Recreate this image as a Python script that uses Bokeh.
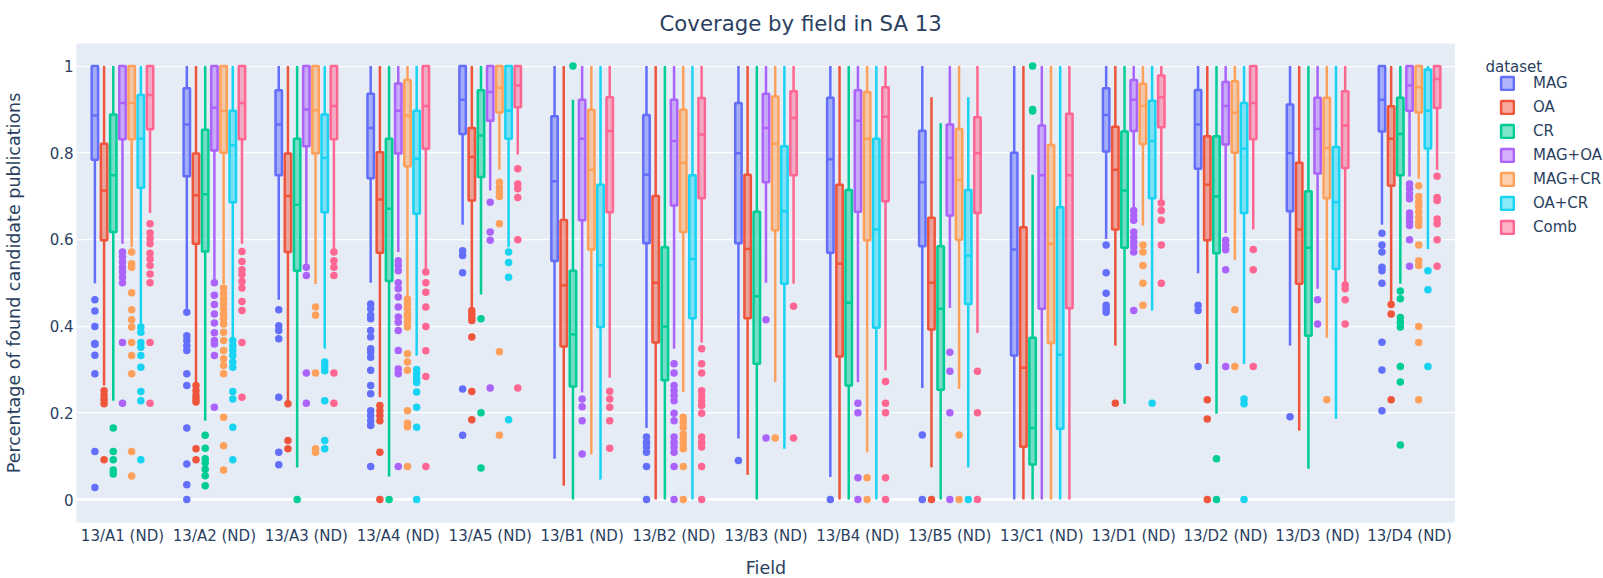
from bokeh.plotting import figure
from bokeh.models import FactorRange, Range1d, FixedTicker, ColumnDataSource, Legend, LegendItem, Span, Label
from bokeh.transform import dodge
from bokeh.layouts import row
from bokeh.embed import file_html
from bokeh.resources import INLINE

FIELDS = ["13/A1 (ND)", "13/A2 (ND)", "13/A3 (ND)", "13/A4 (ND)", "13/A5 (ND)",
          "13/B1 (ND)", "13/B2 (ND)", "13/B3 (ND)", "13/B4 (ND)", "13/B5 (ND)",
          "13/C1 (ND)", "13/D1 (ND)", "13/D2 (ND)", "13/D3 (ND)", "13/D4 (ND)"]
DATASETS = ["MAG", "OA", "CR", "MAG+OA", "MAG+CR", "OA+CR", "Comb"]
COLORS = ["#636efa", "#EF553B", "#00cc96", "#ab63fa", "#FFA15A", "#19d3f3", "#FF6692"]

# ---- MAG ----
MAG_LO = [0.499, 0.44, 0.461, 0.5, 0.634, 0.094, 0.165, 0.141, 0.052, 0.257, 0.0, 0.601, 0.522, 0.355, 0.634]
MAG_Q1 = [0.784, 0.746, 0.748, 0.741, 0.843, 0.55, 0.591, 0.591, 0.569, 0.584, 0.332, 0.803, 0.763, 0.665, 0.849]
MAG_MED = [0.886, 0.865, 0.865, 0.857, 0.922, 0.734, 0.749, 0.799, 0.785, 0.732, 0.577, 0.887, 0.865, 0.799, 0.922]
MAG_Q3 = [1.0, 0.949, 0.944, 0.936, 1.0, 0.884, 0.887, 0.915, 0.927, 0.851, 0.8, 0.949, 0.945, 0.911, 1.0]
MAG_HI = [1.0] * 15
MAG_OUT = [[0.461, 0.435, 0.399, 0.36, 0.358, 0.333, 0.29, 0.111, 0.028],
           [0.432, 0.378, 0.367, 0.355, 0.344, 0.29, 0.263, 0.165, 0.082, 0.034, 0.0],
           [0.438, 0.401, 0.39, 0.371, 0.236, 0.109, 0.08],
           [0.451, 0.44, 0.425, 0.417, 0.39, 0.375, 0.348, 0.34, 0.328, 0.298, 0.263, 0.244, 0.205, 0.194, 0.182, 0.171, 0.076],
           [0.574, 0.563, 0.523, 0.255, 0.148],
           [],
           [0.144, 0.132, 0.121, 0.109, 0.076, 0.0],
           [0.09],
           [0.0],
           [0.149, 0.0],
           [],
           [0.587, 0.523, 0.476, 0.448, 0.44, 0.432],
           [0.448, 0.436, 0.307],
           [0.191],
           [0.614, 0.587, 0.571, 0.536, 0.528, 0.499, 0.363, 0.299, 0.205]]

# ---- OA ----
OA_LO = [0.263, 0.267, 0.225, 0.236, 0.444, 0.032, 0.0, 0.057, 0.0, 0.074, 0.0, 0.355, 0.313, 0.159, 0.454]
OA_Q1 = [0.598, 0.59, 0.571, 0.569, 0.69, 0.353, 0.362, 0.418, 0.33, 0.392, 0.122, 0.623, 0.598, 0.498, 0.724]
OA_MED = [0.713, 0.702, 0.7, 0.692, 0.79, 0.494, 0.5, 0.578, 0.544, 0.5, 0.304, 0.761, 0.726, 0.623, 0.832]
OA_Q3 = [0.821, 0.798, 0.798, 0.801, 0.857, 0.645, 0.7, 0.749, 0.726, 0.65, 0.628, 0.86, 0.838, 0.777, 0.907]
OA_HI = [1.0, 1.0, 1.0, 1.0, 1.0, 1.0, 1.0, 1.0, 1.0, 0.928, 1.0, 1.0, 1.0, 1.0, 1.0]
OA_OUT = [[0.251, 0.24, 0.23, 0.221, 0.092],
          [0.263, 0.251, 0.24, 0.232, 0.225, 0.117, 0.092],
          [0.221, 0.136, 0.117],
          [0.217, 0.205, 0.194, 0.182, 0.109, 0.0],
          [0.436, 0.428, 0.42, 0.413, 0.375, 0.249, 0.184],
          [], [], [], [],
          [0.0],
          [],
          [0.222],
          [0.23, 0.186, 0.0],
          [],
          [0.45, 0.428, 0.23]]

# ---- CR ----
CR_LO = [0.228, 0.182, 0.074, 0.053, 0.473, 0.0, 0.0, 0.0, 0.0, 0.0, 0.0, 0.221, 0.198, 0.071, 0.498]
CR_Q1 = [0.617, 0.572, 0.528, 0.504, 0.744, 0.261, 0.275, 0.313, 0.263, 0.253, 0.081, 0.581, 0.568, 0.378, 0.748]
CR_MED = [0.748, 0.704, 0.68, 0.671, 0.84, 0.381, 0.399, 0.469, 0.454, 0.44, 0.165, 0.713, 0.699, 0.581, 0.843]
CR_Q3 = [0.888, 0.853, 0.832, 0.832, 0.944, 0.528, 0.582, 0.664, 0.714, 0.584, 0.373, 0.849, 0.838, 0.711, 0.927]
CR_HI = [1.0, 1.0, 1.0, 1.0, 1.0, 0.922, 1.0, 1.0, 1.0, 0.868, 0.749, 1.0, 1.0, 1.0, 1.0]
CR_OUT = [[0.165, 0.111, 0.092, 0.068, 0.059],
          [0.148, 0.118, 0.094, 0.085, 0.07, 0.055, 0.032],
          [0.0],
          [0.0],
          [0.417, 0.2, 0.073],
          [1.0],
          [], [], [], [],
          [1.0, 0.9, 0.896],
          [],
          [0.094, 0.0],
          [],
          [0.481, 0.463, 0.42, 0.409, 0.398, 0.307, 0.271, 0.126]]

# ---- MAG+OA ----
MAGOA_LO = [0.59, 0.505, 0.544, 0.571, 0.713, 0.247, 0.348, 0.5, 0.271, 0.442, 0.0, 0.674, 0.615, 0.486, 0.745]
MAGOA_Q1 = [0.831, 0.805, 0.815, 0.798, 0.874, 0.644, 0.678, 0.732, 0.664, 0.655, 0.44, 0.85, 0.819, 0.752, 0.897]
MAGOA_MED = [0.915, 0.904, 0.9, 0.897, 0.94, 0.832, 0.827, 0.857, 0.874, 0.788, 0.748, 0.922, 0.908, 0.855, 0.955]
MAGOA_Q3 = [1.0, 1.0, 1.0, 0.96, 1.0, 0.922, 0.922, 0.936, 0.944, 0.865, 0.863, 0.968, 0.963, 0.927, 1.0]
MAGOA_HI = [1.0] * 15
MAGOA_OUT = [[0.571, 0.56, 0.548, 0.536, 0.525, 0.513, 0.5, 0.362, 0.222],
             [0.5, 0.471, 0.45, 0.428, 0.407, 0.385, 0.367, 0.359, 0.332, 0.213],
             [0.536, 0.517, 0.292, 0.222],
             [0.551, 0.54, 0.528, 0.5, 0.486, 0.467, 0.444, 0.421, 0.409, 0.39, 0.344, 0.301, 0.29, 0.076],
             [0.686, 0.617, 0.598, 0.257],
             [0.232, 0.214, 0.182, 0.105],
             [0.313, 0.292, 0.263, 0.251, 0.24, 0.228, 0.199, 0.182, 0.144, 0.132, 0.121, 0.109, 0.076, 0.0],
             [0.415, 0.142],
             [0.222, 0.2, 0.05, 0.0],
             [0.34, 0.296, 0.2, 0.0],
             [],
             [0.667, 0.655, 0.644, 0.617, 0.605, 0.594, 0.583, 0.571, 0.436],
             [0.598, 0.586, 0.576, 0.53, 0.307],
             [0.461, 0.405],
             [0.728, 0.717, 0.705, 0.694, 0.661, 0.651, 0.64, 0.632, 0.599, 0.538]]

# ---- MAG+CR ----
MAGCR_LO = [0.582, 0.497, 0.497, 0.468, 0.761, 0.104, 0.248, 0.271, 0.109, 0.255, 0.0, 0.632, 0.553, 0.373, 0.74]
MAGCR_Q1 = [0.831, 0.8, 0.798, 0.769, 0.893, 0.577, 0.617, 0.621, 0.598, 0.599, 0.361, 0.82, 0.8, 0.695, 0.893]
MAGCR_MED = [0.915, 0.896, 0.898, 0.886, 0.95, 0.761, 0.777, 0.821, 0.832, 0.737, 0.59, 0.908, 0.892, 0.811, 0.951]
MAGCR_Q3 = [1.0, 1.0, 1.0, 0.968, 1.0, 0.899, 0.899, 0.93, 0.94, 0.855, 0.818, 0.959, 0.965, 0.927, 1.0]
MAGCR_HI = [1.0] * 15
MAGCR_OUT = [[0.571, 0.544, 0.536, 0.477, 0.438, 0.415, 0.398, 0.362, 0.332, 0.29, 0.111, 0.054],
             [0.488, 0.475, 0.463, 0.452, 0.44, 0.428, 0.417, 0.405, 0.386, 0.367, 0.344, 0.325, 0.309, 0.29, 0.19, 0.124, 0.068],
             [0.444, 0.425, 0.292, 0.117, 0.109],
             [0.462, 0.451, 0.44, 0.428, 0.42, 0.409, 0.398, 0.336, 0.317, 0.298, 0.205, 0.176, 0.168, 0.076],
             [0.732, 0.72, 0.709, 0.699, 0.636, 0.341, 0.148],
             [],
             [0.19, 0.178, 0.167, 0.151, 0.14, 0.128, 0.117, 0.076, 0.0],
             [0.142],
             [0.05, 0.0],
             [0.149, 0.0],
             [],
             [0.587, 0.571, 0.54, 0.499, 0.448],
             [0.438, 0.307],
             [0.23],
             [0.724, 0.699, 0.687, 0.676, 0.664, 0.651, 0.64, 0.632, 0.587, 0.551, 0.54, 0.399, 0.362, 0.23]]

# ---- OA+CR ----
OACR_LO = [0.405, 0.371, 0.348, 0.332, 0.582, 0.046, 0.0, 0.117, 0.0, 0.074, 0.0, 0.436, 0.313, 0.186, 0.578]
OACR_Q1 = [0.719, 0.686, 0.663, 0.659, 0.832, 0.398, 0.418, 0.498, 0.396, 0.451, 0.163, 0.695, 0.661, 0.532, 0.81]
OACR_MED = [0.832, 0.817, 0.788, 0.786, 0.897, 0.541, 0.555, 0.665, 0.623, 0.563, 0.334, 0.827, 0.809, 0.686, 0.897]
OACR_Q3 = [0.933, 0.897, 0.888, 0.897, 1.0, 0.726, 0.748, 0.815, 0.832, 0.714, 0.674, 0.92, 0.915, 0.813, 0.992]
OACR_HI = [1.0, 1.0, 1.0, 1.0, 1.0, 1.0, 1.0, 1.0, 1.0, 0.928, 1.0, 1.0, 1.0, 1.0, 1.0]
OACR_OUT = [[0.398, 0.386, 0.362, 0.351, 0.332, 0.305, 0.249, 0.228, 0.092],
            [0.367, 0.355, 0.344, 0.332, 0.317, 0.305, 0.249, 0.232, 0.167, 0.092],
            [0.317, 0.307, 0.297, 0.228, 0.136, 0.117],
            [0.3, 0.29, 0.28, 0.27, 0.248, 0.213, 0.167, 0.0],
            [0.571, 0.547, 0.513, 0.184],
            [], [], [], [],
            [0.0],
            [],
            [0.222],
            [0.232, 0.221, 0.0],
            [],
            [0.528, 0.484, 0.307]]

# ---- Comb ----
COMB_LO = [0.661, 0.59, 0.574, 0.528, 0.796, 0.281, 0.362, 0.498, 0.298, 0.384, 0.0, 0.69, 0.623, 0.501, 0.761]
COMB_Q1 = [0.854, 0.831, 0.831, 0.809, 0.905, 0.663, 0.695, 0.748, 0.688, 0.661, 0.441, 0.859, 0.831, 0.765, 0.903]
COMB_MED = [0.933, 0.915, 0.908, 0.908, 0.955, 0.85, 0.842, 0.88, 0.883, 0.799, 0.748, 0.928, 0.915, 0.863, 0.97]
COMB_Q3 = [1.0, 1.0, 1.0, 1.0, 1.0, 0.928, 0.926, 0.942, 0.951, 0.882, 0.89, 0.978, 1.0, 0.942, 1.0]
COMB_HI = [1.0] * 15
COMB_OUT = [[0.636, 0.615, 0.603, 0.59, 0.568, 0.555, 0.54, 0.52, 0.5, 0.362, 0.222],
            [0.572, 0.549, 0.53, 0.519, 0.503, 0.488, 0.457, 0.436, 0.362, 0.236],
            [0.571, 0.551, 0.536, 0.517, 0.292, 0.222],
            [0.525, 0.5, 0.478, 0.444, 0.399, 0.343, 0.284, 0.076],
            [0.763, 0.728, 0.717, 0.697, 0.599, 0.257],
            [0.25, 0.232, 0.213, 0.182, 0.118],
            [0.348, 0.313, 0.292, 0.251, 0.24, 0.228, 0.217, 0.199, 0.144, 0.132, 0.121, 0.076, 0.0],
            [0.446, 0.142],
            [0.272, 0.222, 0.2, 0.05, 0.0],
            [0.296, 0.2, 0.0],
            [],
            [0.684, 0.667, 0.644, 0.587, 0.499],
            [0.577, 0.53, 0.307],
            [0.495, 0.486, 0.461, 0.405],
            [0.746, 0.697, 0.69, 0.647, 0.636, 0.599, 0.538]]

STATS = [
    (MAG_LO, MAG_Q1, MAG_MED, MAG_Q3, MAG_HI, MAG_OUT),
    (OA_LO, OA_Q1, OA_MED, OA_Q3, OA_HI, OA_OUT),
    (CR_LO, CR_Q1, CR_MED, CR_Q3, CR_HI, CR_OUT),
    (MAGOA_LO, MAGOA_Q1, MAGOA_MED, MAGOA_Q3, MAGOA_HI, MAGOA_OUT),
    (MAGCR_LO, MAGCR_Q1, MAGCR_MED, MAGCR_Q3, MAGCR_HI, MAGCR_OUT),
    (OACR_LO, OACR_Q1, OACR_MED, OACR_Q3, OACR_HI, OACR_OUT),
    (COMB_LO, COMB_Q1, COMB_MED, COMB_Q3, COMB_HI, COMB_OUT),
]

FONT = "DejaVu Sans"
TXT = "#2a3f5f"
LEFT = 74         # left border (y axis area)
TOP = 43          # top border (title area), shared by both figures of the row
BOTTOM = 52
FRAME_W = 1379
FRAME_H = 479

p = figure(frame_width=FRAME_W, frame_height=FRAME_H,
           x_range=FactorRange(factors=FIELDS, range_padding=0),
           y_range=Range1d(-0.053, 1.052),
           output_backend="svg", toolbar_location=None,
           min_border_left=LEFT, min_border_right=0, min_border_top=TOP, min_border_bottom=BOTTOM,
           background_fill_color="#E5ECF6", border_fill_color="white", outline_line_color=None)

p.title.text = "Coverage by field in SA 13"
p.title.align = "left"
p.title.offset = 583
p.title.standoff = 15
p.title.text_font = FONT
p.title.text_font_size = "21.25px"
p.title.text_font_style = "normal"
p.title.text_color = TXT

p.xgrid.visible = False
p.yaxis.ticker = FixedTicker(ticks=[0, 0.2, 0.4, 0.6, 0.8, 1])
p.yaxis.major_label_overrides = {0: "0", 1: "1"}
p.ygrid.ticker = FixedTicker(ticks=[0.2, 0.4, 0.6, 0.8, 1])
p.ygrid.grid_line_color = "white"
p.ygrid.grid_line_width = 1.25
p.add_layout(Span(location=0, dimension="width", line_color="white", line_width=2.5, level="underlay"))

for ax in (p.xaxis[0], p.yaxis[0]):
    ax.axis_line_color = None
    ax.major_tick_line_color = None
    ax.minor_tick_line_color = None
    ax.major_tick_out = 0
    ax.major_tick_in = 0
    ax.minor_tick_out = 0
    ax.minor_tick_in = 0
    ax.major_label_text_font = FONT
    ax.major_label_text_font_size = "15px"
    ax.major_label_text_color = TXT
    ax.axis_label_text_font = FONT
    ax.axis_label_text_font_size = "17.5px"
    ax.axis_label_text_font_style = "normal"
    ax.axis_label_text_color = TXT

p.xaxis.axis_label = "Field"
p.xaxis.major_label_standoff = 4
p.xaxis.axis_label_standoff = 10
p.yaxis.axis_label = "Percentage of found candidate publications"
p.yaxis.major_label_standoff = 3
p.yaxis.axis_label_standoff = 23

SLOT = 0.7 / 7
BW = SLOT * 0.7
LW = 2.5

for i, (name, color, st) in enumerate(zip(DATASETS, COLORS, STATS)):
    lo, q1, med, q3, hi, outs = st
    off = (i - 3) * SLOT
    src = ColumnDataSource(dict(field=FIELDS, lo=lo, q1=q1, med=med, q3=q3, hi=hi))
    xc = dodge("field", off, range=p.x_range)
    p.segment(x0=xc, y0="q3", x1=xc, y1="hi", source=src, line_color=color, line_width=LW)
    p.segment(x0=xc, y0="q1", x1=xc, y1="lo", source=src, line_color=color, line_width=LW)
    p.vbar(x=xc, width=BW, bottom="q1", top="q3", source=src,
           fill_color=color, fill_alpha=0.5, line_color=color, line_width=LW)
    p.segment(x0=dodge("field", off - BW / 2, range=p.x_range), y0="med",
              x1=dodge("field", off + BW / 2, range=p.x_range), y1="med",
              source=src, line_color=color, line_width=LW)
    ox, oy = [], []
    for f, vals in zip(FIELDS, outs):
        for v in vals:
            ox.append(f)
            oy.append(v)
    osrc = ColumnDataSource(dict(field=ox, y=oy))
    p.scatter(x=dodge("field", off, range=p.x_range), y="y", source=osrc,
              size=7.5, fill_color=color, line_color=None, marker="circle")

# ---- legend panel: a small figure whose data coordinates equal its pixel coordinates ----
LG_MARGIN = 31
LG_LEFT = 44 - LG_MARGIN
LG_W = 1603 - LEFT - FRAME_W
LG_H = TOP + FRAME_H + BOTTOM
lg = figure(width=LG_W, height=LG_H,
            x_range=Range1d(LG_LEFT, LG_W), y_range=Range1d(LG_H - BOTTOM, TOP),
            x_axis_type=None, y_axis_type=None, toolbar_location=None, output_backend="svg",
            min_border_left=LG_LEFT, min_border_top=TOP, min_border_right=0, min_border_bottom=BOTTOM,
            outline_line_color=None, background_fill_color="white", border_fill_color="white")
lg.grid.visible = False
NAN = float("nan")
items = []
for name, color in zip(DATASETS, COLORS):
    # a swatch-only renderer (NaN coordinates draw nothing); only its legend glyph shows
    r = lg.vbar(x=[NAN], width=1.0, bottom=[NAN], top=[NAN], fill_color=color,
                fill_alpha=0.5, line_color=color, line_width=LW)
    items.append(LegendItem(label=name, renderers=[r]))

legend = Legend(items=items, location="top_left",
                label_text_font=FONT, label_text_font_size="15px", label_text_color=TXT,
                glyph_width=16, glyph_height=16, label_height=18, label_standoff=18,
                spacing=6, padding=0, margin=LG_MARGIN, border_line_color=None,
                background_fill_alpha=0)
lg.add_layout(legend)
lg.add_layout(Label(x=30, y=TOP + 23.7, text="dataset",
                    text_font=FONT, text_font_size="15px", text_color=TXT,
                    text_baseline="alphabetic"))

layout = row(p, lg)
open("out.html", "w").write(file_html(layout, INLINE))
